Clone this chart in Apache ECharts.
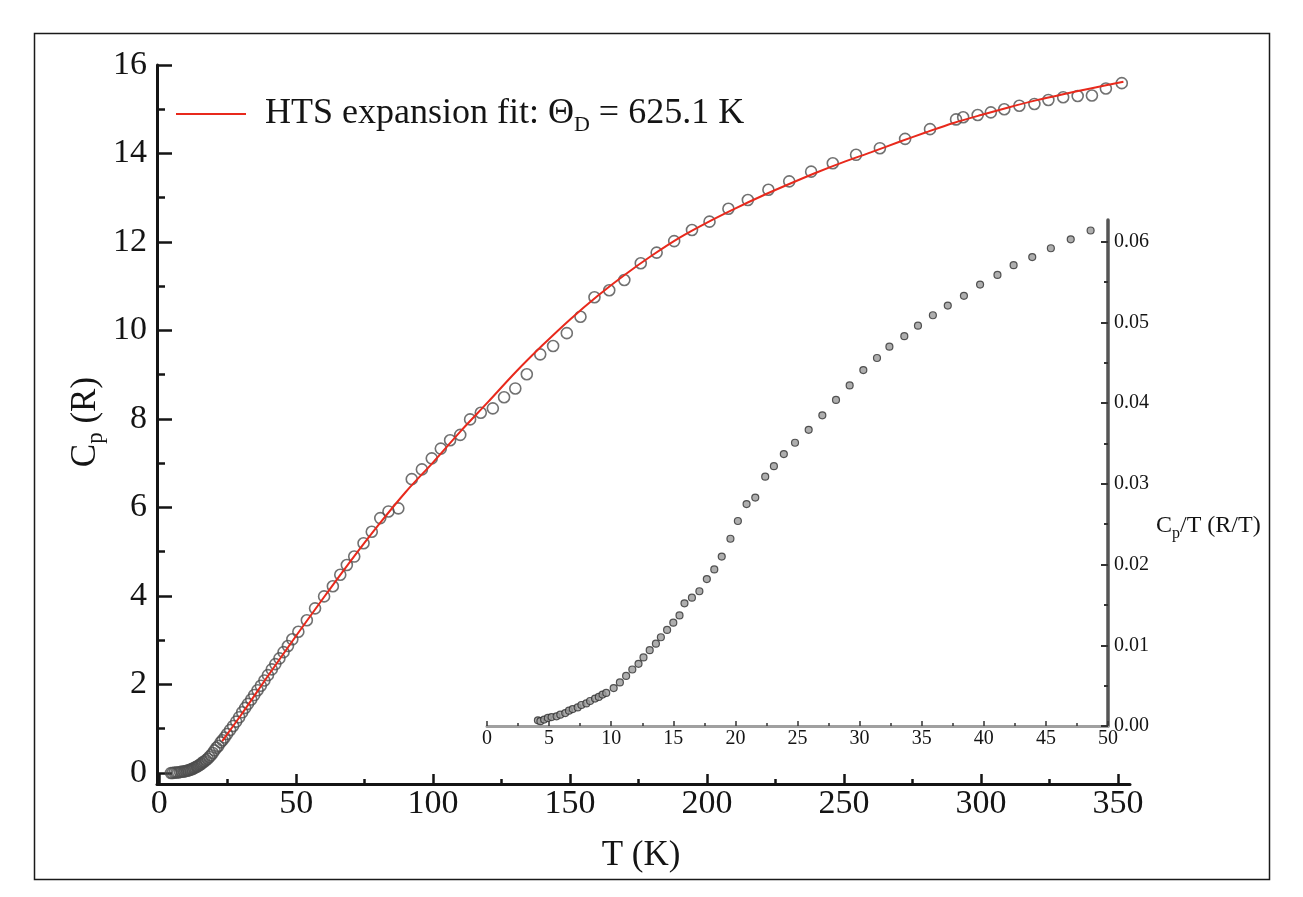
<!DOCTYPE html>
<html>
<head>
<meta charset="utf-8">
<script src="https://cdn.jsdelivr.net/npm/echarts@6/dist/echarts.min.js"></script>
<style>
  html, body { margin: 0; padding: 0; background: #fff; }
  #chart { width: 1303px; height: 897px; }
</style>
</head>
<body>
<div id="chart"></div>
<script>
// Heat capacity Cp (in units of R) versus temperature
const cpTemps = [4.3, 4.9, 5.6, 6.3, 6.9, 7.6, 8.3, 9.0, 9.6, 10.2, 10.7, 11.2, 11.7, 12.2, 12.6, 13.1, 13.6, 14.0, 14.5, 15.0,
  15.5, 15.9, 16.5, 17.1, 17.7, 18.3, 18.9, 19.6, 20.2, 20.9, 21.6, 22.4, 23.1, 23.9,
  24.8, 25.9, 27.0, 28.1, 29.2, 30.3, 31.4, 32.4, 33.6, 34.7, 35.9, 37.1, 38.4, 39.7, 41.1, 42.4, 43.9, 45.4, 47.0, 48.6,
  50.8, 53.9, 56.9, 60.2, 63.4, 66.1, 68.5, 71.2, 74.6, 77.6, 80.7, 83.7, 87.3,
  92.2, 95.9, 99.5, 102.8, 106.2, 109.9, 113.5, 117.4, 121.8, 125.9, 130.0, 134.2, 139.1, 143.8, 148.8, 153.8, 158.9,
  164.3, 169.8, 175.8, 181.6, 188.0, 194.5, 200.9, 207.8, 214.9, 222.4, 230.0, 238.0, 245.9, 254.4, 263.1, 272.3, 281.4,
  290.9, 293.5, 298.8, 303.6, 308.5, 314.0, 319.5, 324.6, 330.0, 335.3, 340.5, 345.6, 351.4];
const cpValues = [0.00, 0.00, 0.01, 0.01, 0.01, 0.02, 0.03, 0.03, 0.04, 0.05, 0.06, 0.07, 0.08, 0.09, 0.11, 0.12, 0.14, 0.15, 0.17, 0.19,
  0.21, 0.24, 0.26, 0.29, 0.32, 0.36, 0.40, 0.45, 0.51, 0.57, 0.61, 0.69, 0.74, 0.80,
  0.88, 0.97, 1.06, 1.16, 1.26, 1.37, 1.47, 1.56, 1.66, 1.76, 1.87, 1.97, 2.09, 2.21, 2.34, 2.46, 2.59, 2.73, 2.87, 3.02,
  3.19, 3.45, 3.72, 3.99, 4.22, 4.48, 4.70, 4.89, 5.19, 5.45, 5.76, 5.91, 5.98,
  6.64, 6.86, 7.11, 7.33, 7.52, 7.64, 7.99, 8.14, 8.24, 8.49, 8.69, 9.01, 9.46, 9.65, 9.94, 10.31, 10.75,
  10.91, 11.14, 11.52, 11.76, 12.02, 12.27, 12.46, 12.75, 12.95, 13.18, 13.37, 13.59, 13.78, 13.97, 14.12, 14.33, 14.55,
  14.77, 14.82, 14.87, 14.93, 15.00, 15.08, 15.12, 15.21, 15.27, 15.30, 15.31, 15.47, 15.59];

// High-temperature-series expansion fit
const fitName = 'HTS expansion fit';
const fitTemps = [23, 30, 40, 50, 60, 70, 80, 90, 100, 110, 120, 130, 140, 150, 160, 170, 180, 190, 200,
  210, 220, 230, 240, 250, 260, 270, 280, 290, 300, 310, 320, 330, 340, 352];
const fitValues = [0.72, 1.32, 2.22, 3.10, 3.96, 4.80, 5.60, 6.35, 7.02, 7.72, 8.38, 9.05, 9.67, 10.25, 10.78, 11.26, 11.70, 12.10, 12.44,
  12.75, 13.04, 13.31, 13.57, 13.81, 14.03, 14.26, 14.48, 14.69, 14.87, 15.04, 15.20, 15.34, 15.47, 15.62];

// Inset: Cp/T at low temperature
const insetTemps = [4.1, 4.3, 4.6, 4.9, 5.2, 5.6, 5.9, 6.3, 6.6, 6.9, 7.3, 7.6, 8.0, 8.3, 8.7, 9.0, 9.3, 9.6, 10.2, 10.7,
  11.2, 11.7, 12.2, 12.6, 13.1, 13.6, 14.0, 14.5, 15.0, 15.5, 15.9, 16.5, 17.1, 17.7, 18.3, 18.9, 19.6, 20.2, 20.9, 21.6,
  22.4, 23.1, 23.9, 24.8, 25.9, 27.0, 28.1, 29.2, 30.3, 31.4, 32.4, 33.6, 34.7, 35.9, 37.1, 38.4, 39.7, 41.1, 42.4, 43.9,
  45.4, 47.0, 48.6];
const insetValues = [0.0007, 0.0006, 0.0008, 0.0010, 0.0011, 0.0012, 0.0014, 0.0016, 0.0019, 0.0021, 0.0023, 0.0026, 0.0028, 0.0031, 0.0034, 0.0036, 0.0039, 0.0041, 0.0047, 0.0054,
  0.0062, 0.0070, 0.0077, 0.0085, 0.0094, 0.0102, 0.0110, 0.0119, 0.0128, 0.0137, 0.0152, 0.0159, 0.0167, 0.0182, 0.0194, 0.0210, 0.0232, 0.0254, 0.0275, 0.0283,
  0.0309, 0.0322, 0.0337, 0.0351, 0.0367, 0.0385, 0.0404, 0.0422, 0.0441, 0.0456, 0.0470, 0.0483, 0.0496, 0.0509, 0.0521, 0.0533, 0.0547, 0.0559, 0.0571, 0.0581,
  0.0592, 0.0603, 0.0614];

// Tick positions
const mainXTicks = [0, 50, 100, 150, 200, 250, 300, 350];
const mainXMinor = [25, 75, 125, 175, 225, 275, 325];
const mainYTicks = [0, 2, 4, 6, 8, 10, 12, 14, 16];
const mainYMinor = [1, 3, 5, 7, 9, 11, 13, 15];
const insetXTicks = [0, 5, 10, 15, 20, 25, 30, 35, 40, 45, 50];
const insetXMinor = [2.5, 7.5, 12.5, 17.5, 22.5, 27.5, 32.5, 37.5, 42.5, 47.5];
const insetYTicks = [0, 0.01, 0.02, 0.03, 0.04, 0.05, 0.06];
const insetYMinor = [0.005, 0.015, 0.025, 0.035, 0.045, 0.055];

const SERIF = "'Liberation Serif', 'Times New Roman', serif";
const INK = '#141414';

function pairs(xs, ys) { return xs.map((x, i) => [x, ys[i]]); }

function tickAxis(opts) {
  return {
    type: 'value',
    gridIndex: opts.grid,
    position: opts.position,
    min: opts.min,
    max: opts.max,
    axisLine: { show: !!opts.line, onZero: false, lineStyle: opts.line || {} },
    axisTick: { show: true, inside: true, length: opts.tickLen, customValues: opts.ticks,
      lineStyle: { color: opts.tickColor || INK, width: opts.tickWidth || 2 } },
    axisLabel: opts.labelSize ? {
      show: true, customValues: opts.ticks, fontSize: opts.labelSize, fontFamily: SERIF, color: INK,
      margin: opts.margin, formatter: opts.formatter
    } : { show: false },
    splitLine: { show: false },
    axisPointer: { show: false }
  };
}

const chart = echarts.init(document.getElementById('chart'), null, { renderer: 'canvas' });

const subRich = (big, small, drop) => ({
  m: { fontSize: big, fontFamily: SERIF, fill: INK, color: INK, lineHeight: big + 8 },
  s: { fontSize: small, fontFamily: SERIF, fill: INK, color: INK, lineHeight: drop, verticalAlign: 'bottom' }
});

chart.setOption({
  animation: false,
  backgroundColor: '#fff',
  grid: [
    { left: 157, right: 173, top: 65, bottom: 113, containLabel: false, outerBoundsMode: 'none' },
    { left: 487, right: 195, top: 220, bottom: 171, containLabel: false, outerBoundsMode: 'none' }
  ],
  xAxis: [
    tickAxis({ grid: 0, position: 'bottom', min: -0.8, max: 354.4, line: { color: INK, width: 3 },
      ticks: mainXTicks, tickLen: 10, tickWidth: 2.5, labelSize: 34, margin: 3 }),
    tickAxis({ grid: 0, position: 'bottom', min: -0.8, max: 354.4, ticks: mainXMinor, tickLen: 5, tickWidth: 2.5 }),
    tickAxis({ grid: 1, position: 'bottom', min: 0, max: 50, line: { color: '#a0a0a0', width: 3 },
      ticks: insetXTicks, tickLen: 5, tickWidth: 1.5, tickColor: '#333', labelSize: 20, margin: 3 }),
    tickAxis({ grid: 1, position: 'bottom', min: 0, max: 50, ticks: insetXMinor, tickLen: 3, tickWidth: 1.5, tickColor: '#333' })
  ],
  yAxis: [
    tickAxis({ grid: 0, position: 'left', min: -0.25, max: 16, line: { color: INK, width: 3 },
      ticks: mainYTicks, tickLen: 15, tickWidth: 2.5, labelSize: 34, margin: 10 }),
    tickAxis({ grid: 0, position: 'left', min: -0.25, max: 16, ticks: mainYMinor, tickLen: 8, tickWidth: 2.5 }),
    tickAxis({ grid: 1, position: 'right', min: 0, max: 0.0627, line: { color: '#555', width: 3.5 },
      ticks: insetYTicks, tickLen: 7, tickWidth: 2, tickColor: '#333', labelSize: 20, margin: 6,
      formatter: v => Number(v).toFixed(2) }),
    tickAxis({ grid: 1, position: 'right', min: 0, max: 0.0627, ticks: insetYMinor, tickLen: 4, tickWidth: 2, tickColor: '#333' })
  ],
  legend: {
    show: true,
    left: 176,
    top: 96,
    padding: 0,
    icon: 'rect',
    itemWidth: 70,
    itemHeight: 2,
    selectedMode: false,
    data: [fitName],
    formatter: () => '{g|}{t|HTS expansion fit: Θ}{s|D}{t| = 625.1 K}',
    textStyle: {
      rich: {
        g: { width: 14 },
        t: { fontSize: 36, fontFamily: SERIF, color: INK, lineHeight: 44 },
        s: { fontSize: 22, fontFamily: SERIF, color: INK, lineHeight: 18, verticalAlign: 'bottom' }
      }
    }
  },
  series: [
    {
      type: 'scatter', name: 'Cp', xAxisIndex: 0, yAxisIndex: 0, silent: true, z: 2,
      data: pairs(cpTemps, cpValues),
      symbol: 'circle', symbolSize: 11,
      itemStyle: { color: 'rgba(255,255,255,0)', borderColor: '#4d4d4d', borderWidth: 1.6 }
    },
    {
      type: 'line', name: fitName, xAxisIndex: 0, yAxisIndex: 0, silent: true, z: 3,
      data: pairs(fitTemps, fitValues),
      smooth: 0.3, symbol: 'none',
      lineStyle: { color: '#e8291c', width: 2 },
      itemStyle: { color: '#e8291c' }
    },
    {
      type: 'scatter', name: 'Cp/T', xAxisIndex: 2, yAxisIndex: 2, silent: true, z: 4,
      data: pairs(insetTemps, insetValues),
      symbol: 'circle', symbolSize: 7,
      itemStyle: { color: '#9a9a9a', borderColor: '#2e2e2e', borderWidth: 1.2 }
    }
  ],
  graphic: [
    { type: 'rect', silent: true, z: -1,
      shape: { x: 34.5, y: 33.5, width: 1235, height: 846 },
      style: { fill: null, stroke: '#1a1a1a', lineWidth: 1.5 } },
    { type: 'text', silent: true, x: 641, y: 856,
      style: { text: 'T (K)', fontSize: 35, fontFamily: SERIF, fill: INK, align: 'center', verticalAlign: 'middle' } },
    { type: 'text', silent: true, x: 86, y: 422, rotation: Math.PI / 2,
      style: { text: '{m|C}{s|p}{m| (R)}', rich: subRich(35, 23, 16), align: 'center', verticalAlign: 'middle' } },
    { type: 'text', silent: true, x: 1156, y: 526,
      style: { text: '{m|C}{s|p}{m|/T (R/T)}', rich: subRich(24, 16, 11), align: 'left', verticalAlign: 'middle' } }
  ]
});
</script>
</body>
</html>
